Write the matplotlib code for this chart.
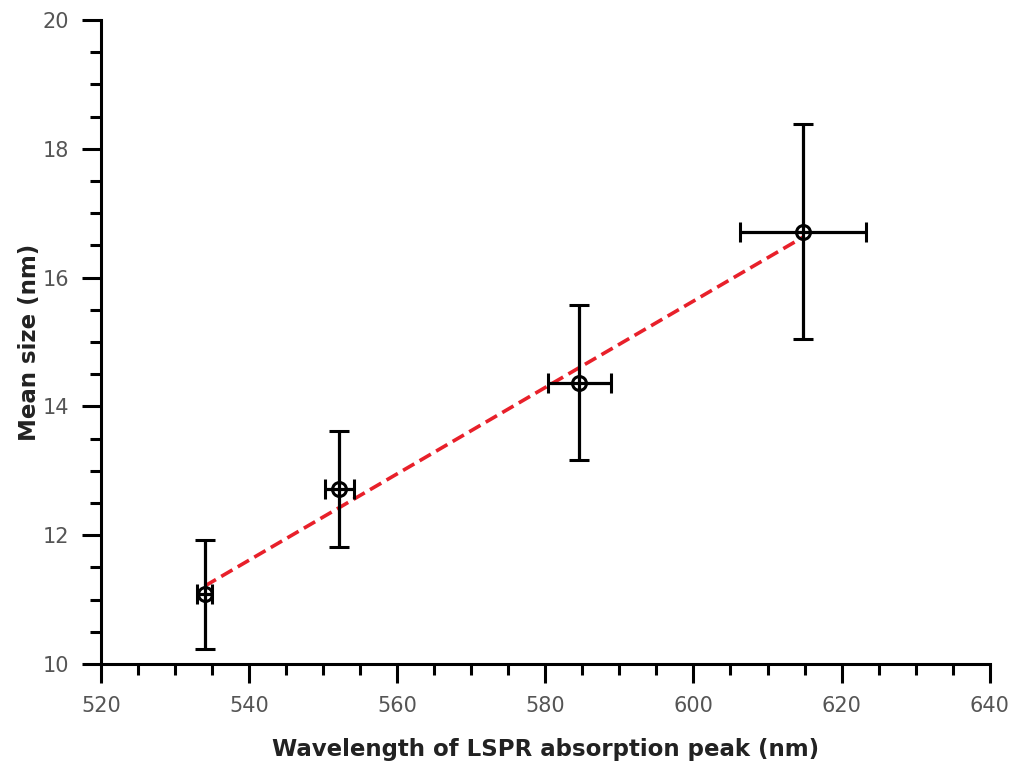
import matplotlib
matplotlib.use("Agg")
import matplotlib.pyplot as plt
from matplotlib.ticker import MultipleLocator
import numpy as np

# LSPR peak wavelength vs mean particle size
wavelength = [534.0, 552.2, 584.6, 614.8]
wavelength_err = [1.0, 1.9, 4.3, 8.5]
mean_size = [11.08, 12.71, 14.37, 16.71]
size_err = [0.84, 0.90, 1.21, 1.67]

fig = plt.figure(figsize=(10.13, 7.65), dpi=100)
ax = fig.add_axes([0.0997, 0.132, 0.8773, 0.842])

# linear fit through the points
k, b = np.polyfit(wavelength, mean_size, 1)
fit_x = np.array([wavelength[0], wavelength[-1]])
ax.plot(fit_x, k * fit_x + b, color="#e8202a", lw=2.6, ls=(0, (3.6, 1.7)), zorder=2)

ax.errorbar(wavelength, mean_size, xerr=wavelength_err, yerr=size_err,
            fmt="o", ms=10, mfc="none", mec="black", mew=2.2,
            ecolor="black", elinewidth=2.3, capsize=7, capthick=2.3, zorder=3)

ax.set_xlim(520, 640)
ax.set_ylim(10, 20)
ax.xaxis.set_major_locator(MultipleLocator(20))
ax.xaxis.set_minor_locator(MultipleLocator(5))
ax.yaxis.set_major_locator(MultipleLocator(2))
ax.yaxis.set_minor_locator(MultipleLocator(0.5))

for s in ["top", "right"]:
    ax.spines[s].set_visible(False)
for s in ["left", "bottom"]:
    ax.spines[s].set_linewidth(2.2)

ax.tick_params(which="major", direction="out", length=14, width=2.2,
               labelsize=15, labelcolor="#555555", pad=9)
ax.tick_params(which="minor", direction="out", length=8, width=2.2)

ax.set_xlabel("Wavelength of LSPR absorption peak (nm)", fontsize=16.5,
              fontweight="bold", color="#222222", labelpad=16)
ax.set_ylabel("Mean size (nm)", fontsize=16.5, fontweight="bold",
              color="#222222", labelpad=1)

fig.savefig("out.png", dpi=100)
